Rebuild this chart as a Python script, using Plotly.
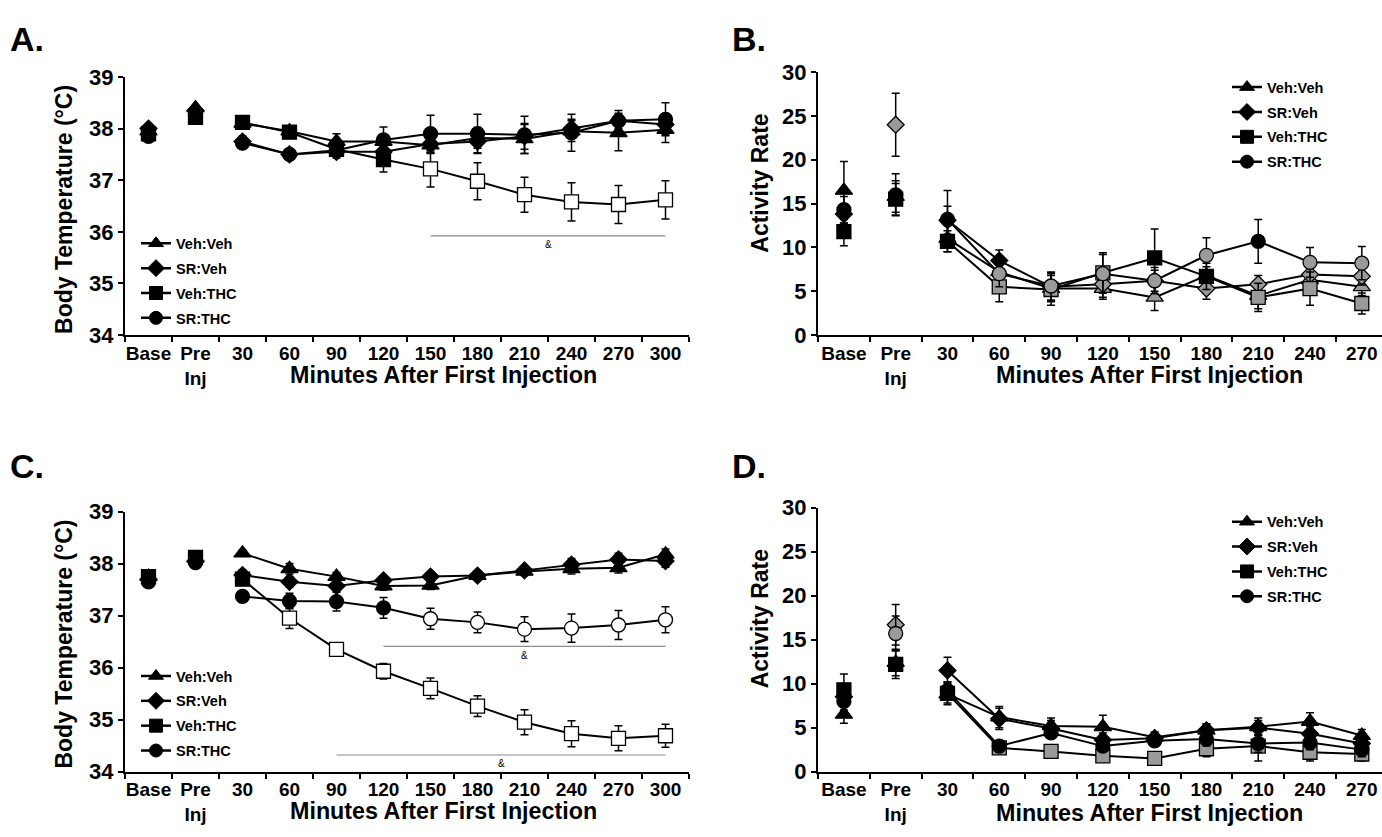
import plotly.graph_objects as go

W, H = 1382, 837
FONT = "Liberation Sans, Arial, sans-serif"

# ---------------- data ----------------
TEMP_CATS = ["Base", "Pre<br>Inj", "30", "60", "90", "120", "150", "180", "210", "240", "270", "300"]
ACT_CATS = ["Base", "Pre<br>Inj", "30", "60", "90", "120", "150", "180", "210", "240", "270"]
SERIES = ["Veh:Veh", "SR:Veh", "Veh:THC", "SR:THC"]

# Panel A - body temperature (°C)
A_vehveh = [37.95, 38.40, 38.10, 37.95, 37.75, 37.75, 37.68, 37.82, 37.80, 37.95, 37.92, 37.98]
A_srveh = [38.00, 38.35, 37.75, 37.50, 37.55, 37.55, 37.70, 37.75, 37.85, 38.00, 38.15, 38.08]
A_vehthc = [37.90, 38.22, 38.12, 37.93, 37.60, 37.40, 37.22, 36.98, 36.72, 36.58, 36.53, 36.62]
A_srthc = [37.85, 38.25, 37.72, 37.50, 37.58, 37.78, 37.90, 37.90, 37.88, 37.92, 38.15, 38.18]
A_vehveh_err = [0.05, 0.05, 0.08, 0.08, 0.15, 0.12, 0.15, 0.20, 0.28, 0.20, 0.35, 0.25]
A_srveh_err = [0.05, 0.05, 0.10, 0.10, 0.12, 0.15, 0.18, 0.22, 0.25, 0.18, 0.15, 0.20]
A_vehthc_err = [0.05, 0.05, 0.08, 0.08, 0.12, 0.24, 0.35, 0.36, 0.34, 0.37, 0.37, 0.37]
A_srthc_err = [0.05, 0.05, 0.10, 0.08, 0.10, 0.25, 0.36, 0.38, 0.36, 0.36, 0.20, 0.32]

# Panel B - activity rate
B_vehveh = [16.5, 15.8, 11.0, 7.2, 5.3, 5.3, 4.3, 6.8, 4.5, 6.3, 5.5]
B_srveh = [13.8, 24.0, 13.1, 8.5, 5.5, 5.8, 6.2, 5.3, 5.8, 6.9, 6.7]
B_vehthc = [11.8, 15.5, 10.7, 5.5, 5.2, 7.1, 8.8, 6.7, 4.3, 5.3, 3.6]
B_srthc = [14.3, 16.0, 13.2, 7.0, 5.6, 7.0, 6.2, 9.1, 10.7, 8.3, 8.2]
B_vehveh_err = [3.3, 1.8, 1.5, 1.2, 1.5, 1.2, 1.5, 1.0, 1.5, 1.2, 1.0]
B_srveh_err = [1.0, 3.6, 1.6, 1.2, 1.6, 1.5, 1.2, 1.2, 1.0, 1.0, 1.0]
B_vehthc_err = [1.6, 1.8, 1.2, 1.7, 1.8, 2.3, 3.3, 1.5, 1.6, 1.9, 1.2]
B_srthc_err = [1.5, 2.4, 3.3, 1.5, 1.6, 2.2, 1.5, 2.0, 2.5, 1.7, 1.9]

# Panel C - body temperature (°C)
C_vehveh = [37.75, 38.10, 38.20, 37.90, 37.75, 37.57, 37.58, 37.77, 37.85, 37.90, 37.92, 38.18]
C_srveh = [37.70, 38.05, 37.78, 37.65, 37.57, 37.68, 37.75, 37.77, 37.87, 37.98, 38.08, 38.05]
C_vehthc = [37.75, 38.12, 37.70, 36.95, 36.35, 35.93, 35.60, 35.26, 34.95, 34.73, 34.64, 34.69]
C_srthc = [37.65, 38.02, 37.37, 37.28, 37.27, 37.15, 36.94, 36.87, 36.74, 36.76, 36.82, 36.92]
C_vehveh_err = [0.05, 0.05, 0.06, 0.10, 0.08, 0.08, 0.08, 0.08, 0.08, 0.10, 0.10, 0.10]
C_srveh_err = [0.05, 0.05, 0.10, 0.10, 0.10, 0.08, 0.08, 0.08, 0.08, 0.12, 0.12, 0.12]
C_vehthc_err = [0.05, 0.05, 0.08, 0.20, 0.12, 0.15, 0.20, 0.20, 0.24, 0.25, 0.24, 0.22]
C_srthc_err = [0.05, 0.05, 0.10, 0.15, 0.18, 0.20, 0.20, 0.20, 0.24, 0.27, 0.28, 0.25]

# Panel D - activity rate
D_vehveh = [6.5, 12.4, 8.8, 6.2, 5.2, 5.1, 3.9, 4.7, 5.1, 5.7, 4.1]
D_srveh = [8.5, 16.7, 11.5, 6.0, 4.9, 3.6, 3.8, 4.7, 5.0, 4.3, 3.2]
D_vehthc = [9.3, 12.2, 8.9, 2.7, 2.3, 1.8, 1.5, 2.6, 2.9, 2.2, 2.0]
D_srthc = [8.0, 15.7, 9.2, 2.9, 4.4, 2.9, 3.5, 3.7, 3.2, 3.3, 2.5]
D_vehveh_err = [1.0, 1.5, 1.0, 1.2, 0.9, 1.3, 0.6, 0.7, 1.0, 1.0, 0.7]
D_srveh_err = [1.5, 2.3, 1.5, 1.2, 0.9, 0.8, 0.6, 0.7, 0.8, 0.8, 0.8]
D_vehthc_err = [1.8, 1.6, 1.3, 0.6, 0.6, 0.6, 0.6, 0.9, 1.7, 1.0, 0.8]
D_srthc_err = [1.5, 2.0, 1.0, 0.6, 0.6, 0.6, 0.6, 0.8, 1.0, 0.8, 0.8]

# marker fill pattern per point (k = black, w = white/open, g = gray)
A_fill = ["kkkkkkkkkkkk", "kkkkkkkkkkkk", "kkkkkkwwwwww", "kkkkkkkkkkkk"]
B_fill = ["kkkkggggggg", "kgkkggggggg", "kkkgggkkggg", "kkkgggggkgg"]
C_fill = ["kkkkkkkkkkkk", "kkkkkkkkkkkk", "kkkwwwwwwwww", "kkkkkkwwwwww"]
D_fill = ["kgkkkkkkkkk", "kgkkkkkkkkk", "kkkggggggggg", "kgkkkkkkkkk"]

# significance bars: (start category, end category, label, level)
A_sig = [("150", "300", "&", 35.92)]
C_sig = [("120", "300", "&", 36.41), ("90", "300", "&", 34.32)]

# ---------------- styling ----------------
SYMBOLS = ["triangle-up", "diamond", "square", "circle"]
SIZES = [15, 13, 14, 14]
COLORS = {"k": "black", "w": "white", "g": "#9a9a9a"}

panels = [
    dict(name="A", xa="x", ya="y", cats=TEMP_CATS,
         vals=[A_vehveh, A_srveh, A_vehthc, A_srthc],
         errs=[A_vehveh_err, A_srveh_err, A_vehthc_err, A_srthc_err],
         fill=A_fill, xd=[125, 689], yd=[67, 333], yr=[34, 39], dt=1,
         xr=[-0.5, 11.5], legend="legend", leg=(136, 222), sig=A_sig),
    dict(name="B", xa="x2", ya="y2", cats=ACT_CATS,
         vals=[B_vehveh, B_srveh, B_vehthc, B_srthc],
         errs=[B_vehveh_err, B_srveh_err, B_vehthc_err, B_srthc_err],
         fill=B_fill, xd=[818, 1382], yd=[62, 333], yr=[0, 30], dt=5,
         xr=[-0.5, 10.39], legend="legend2", leg=(1227, 61), sig=[]),
    dict(name="C", xa="x3", ya="y3", cats=TEMP_CATS,
         vals=[C_vehveh, C_srveh, C_vehthc, C_srthc],
         errs=[C_vehveh_err, C_srveh_err, C_vehthc_err, C_srthc_err],
         fill=C_fill, xd=[125, 689], yd=[515, 783], yr=[34, 39], dt=1,
         xr=[-0.5, 11.5], legend="legend3", leg=(136, 668), sig=C_sig),
    dict(name="D", xa="x4", ya="y4", cats=ACT_CATS,
         vals=[D_vehveh, D_srveh, D_vehthc, D_srthc],
         errs=[D_vehveh_err, D_srveh_err, D_vehthc_err, D_srthc_err],
         fill=D_fill, xd=[818, 1382], yd=[511, 783], yr=[0, 30], dt=5,
         xr=[-0.5, 10.39], legend="legend4", leg=(1227, 509), sig=[]),
]

fig = go.Figure()
layout = dict(
    width=W, height=H, margin=dict(l=0, r=0, t=0, b=0),
    paper_bgcolor="white", plot_bgcolor="white", showlegend=True,
    font=dict(family=FONT, color="black"),
)
annotations = []
shapes = []


def err(arr):
    return dict(type="data", array=arr, visible=True, color="black", thickness=1.5, width=4)


for p in panels:
    xa, ya = p["xa"], p["ya"]
    cats = p["cats"]
    for i, s in enumerate(SERIES):
        vals, errs, fill = p["vals"][i], p["errs"][i], p["fill"][i]
        cols = [COLORS[c] for c in fill]
        mk = lambda sl: dict(symbol=SYMBOLS[i], size=SIZES[i], color=cols[sl],
                             line=dict(color="black", width=1.3))
        # baseline & pre-injection points (not connected)
        fig.add_trace(go.Scatter(
            x=cats[:2], y=vals[:2], mode="markers", marker=mk(slice(0, 2)),
            error_y=err(errs[:2]), xaxis=xa, yaxis=ya, showlegend=False, hoverinfo="skip"))
        # time course after injection
        fig.add_trace(go.Scatter(
            x=cats[2:], y=vals[2:], mode="lines+markers", marker=mk(slice(2, None)),
            line=dict(color="black", width=2), error_y=err(errs[2:]),
            xaxis=xa, yaxis=ya, showlegend=False, hoverinfo="skip"))
        # legend key
        fig.add_trace(go.Scatter(
            x=[None], y=[None], mode="lines+markers", name=s,
            marker=dict(symbol=SYMBOLS[i], size=13, color="black", line=dict(color="black", width=1)),
            line=dict(color="black", width=2.5), xaxis=xa, yaxis=ya,
            legend=p["legend"], legendgroup=p["name"] + s, showlegend=True))

    ax = xa.replace("x", "xaxis")
    ay = ya.replace("y", "yaxis")
    layout[ax] = dict(
        domain=[p["xd"][0] / W, p["xd"][1] / W], anchor=ya, type="category",
        categoryorder="array", categoryarray=cats, range=p["xr"],
        showline=True, linecolor="black", linewidth=2, ticks="outside", ticklen=5,
        tickwidth=2, tickcolor="black", tickson="boundaries", showgrid=False, zeroline=False,
        tickfont=dict(family=FONT, size=19, color="black", weight="bold"), tickangle=0)
    layout[ay] = dict(
        domain=[1 - p["yd"][1] / H, 1 - p["yd"][0] / H], anchor=xa, range=p["yr"], dtick=p["dt"],
        showline=True, linecolor="black", linewidth=2, ticks="outside", ticklen=5, tickwidth=2,
        tickcolor="black", showgrid=False, zeroline=False,
        tickfont=dict(family=FONT, size=22, color="black", weight="bold"))
    layout[p["legend"]] = dict(
        x=p["leg"][0] / W, y=1 - p["leg"][1] / H, xanchor="left", yanchor="top",
        bgcolor="rgba(0,0,0,0)", tracegroupgap=3, itemwidth=30,
        font=dict(family=FONT, size=14.5, color="black", weight="bold"))

    for (c0, c1, lab, yv) in p["sig"]:
        shapes.append(dict(type="line", xref=xa, yref=ya, x0=cats.index(c0), x1=cats.index(c1),
                           y0=yv, y1=yv, line=dict(color="#8c8c8c", width=1.2)))
        annotations.append(dict(xref=xa, yref=ya, x=(cats.index(c0) + cats.index(c1)) / 2,
                                y=yv, yshift=-9, text=lab, showarrow=False,
                                font=dict(family=FONT, size=10, color="black")))

# white star inside the first post-injection Veh:THC square of panel C
annotations.append(dict(xref="x3", yref="y3", x=TEMP_CATS[2], y=C_vehthc[2], text="*",
                        showarrow=False, yshift=-3, font=dict(family=FONT, size=14, color="white", weight="bold")))


# axis titles & panel letters (paper pixels)
def ann(text, x, y, size, angle=0, xanchor="center"):
    annotations.append(dict(xref="paper", yref="paper", x=x / W, y=1 - y / H, text=text,
                            showarrow=False, textangle=angle, xanchor=xanchor, yanchor="middle",
                            font=dict(family=FONT, size=size, color="black", weight="bold")))


ann("Body Temperature (°C)", 64, 203, 23, -90)
ann("Body Temperature (°C)", 64, 651, 23, -90)
ann("Activity Rate", 760, 177, 23, -90)
ann("Activity Rate", 760, 626, 23, -90)
ann("Minutes After First Injection", 443, 374, 23.3)
ann("Minutes After First Injection", 443, 824, 23.3)
ann("Minutes After First Injection", 1149, 374, 23.3)
ann("Minutes After First Injection", 1149, 826, 23.3)
ann("A.", 8, 28, 34, xanchor="left")
ann("B.", 730, 28, 34, xanchor="left")
ann("C.", 8, 468, 34, xanchor="left")
ann("D.", 730, 468, 34, xanchor="left")

layout["annotations"] = annotations
layout["shapes"] = shapes
fig.update_layout(**layout)
fig.write_html("out.html", config={"displayModeBar": False},
               post_script="document.body.style.margin='0';document.body.style.overflow='hidden';")
